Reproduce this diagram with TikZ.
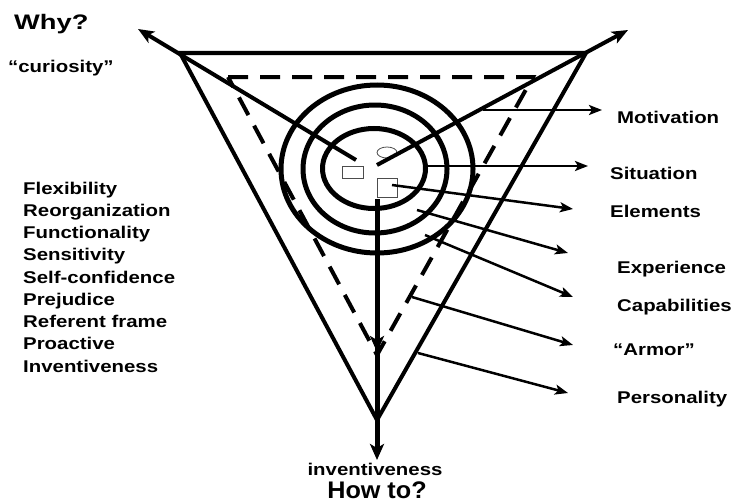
\documentclass[tikz,border=0pt]{standalone}
\usepackage{fontspec}
\newfontfamily\lab{Liberation Sans}[FakeStretch=1.2]
\newfontfamily\labw{Liberation Sans}[FakeStretch=1.3]
\newfontfamily\labh{Liberation Sans}[FakeStretch=1.05]
\usetikzlibrary{arrows.meta}
\begin{document}
\begin{tikzpicture}[x=1pt,y=-1pt,
  tri/.style={line width=4pt, line join=miter},
  dashtri/.style={line width=4pt, dash pattern=on 20pt off 12pt},
  ring/.style={line width=5pt},
  bigarrow/.style={line width=4pt,-{Stealth[length=16pt,width=13pt,inset=4pt]}},
  vert/.style={line width=5pt,-{Stealth[length=16pt,width=14pt,inset=4pt]}},
  thinarrow/.style={line width=2.5pt,-{Stealth[length=13pt,width=10pt,inset=3pt]}},
  smallshape/.style={line width=0.8pt, draw=black!70},
  lbl/.style={anchor=base west, inner sep=0pt, font=\lab\bfseries\fontsize{17}{20}\selectfont},
]
\useasboundingbox (0,0) rectangle (743,503);

% triangles
\draw[tri] (180,53) -- (586,53) -- (377,420) -- cycle;
\draw[dashtri] (228,77) -- (533,77) -- (377,355) -- cycle;

% rings
\draw[ring] (377,169) ellipse [x radius=96, y radius=84];
\draw[ring] (375,169) ellipse [x radius=72, y radius=64];
\draw[ring] (374,168.5) ellipse [x radius=51.5, y radius=40];

% small shapes
\draw[smallshape] (342,166) rectangle (363,178);
\draw[smallshape] (377,178) rectangle (397,197);
\draw[smallshape] (387,152.5) ellipse [x radius=10, y radius=5.5];

% coordinates
\coordinate (lt) at (356,160);
\coordinate (ltip) at (138,29);
\coordinate (rt) at (377,165);
\coordinate (rtip) at (628,30);
\coordinate (vt) at (377,199);
\coordinate (vmid) at (377,352);
\coordinate (vtip) at (377,460);

\draw[bigarrow] (lt) -- (ltip);
\draw[bigarrow] (rt) -- (rtip);
\draw[vert] (vt) -- (vtip);
\draw[vert] (vt) -- (vmid);

% labels right
\node[lbl] (mot) at (617,123) {Motivation};
\node[lbl] (sit) at (610,179) {Situation};
\node[lbl] (ele) at (610,217) {Elements};
\node[lbl] (exp) at (617,273) {Experience};
\node[lbl] (cap) at (617,311) {Capabilities};
\node[lbl] (arm) at (613,355) {“Armor”};
\node[lbl] (per) at (617,403) {Personality};

\coordinate (smot) at (483,110);
\coordinate (ssit) at (425,166);
\coordinate (sele) at (392,185);
\coordinate (sexp) at (417,210);
\coordinate (scap) at (425,235);
\coordinate (sarm) at (412,297);
\coordinate (sper) at (418,353);
\coordinate (tmot) at (602,110);
\coordinate (tsit) at (588,166);
\coordinate (tele) at (573,209);
\coordinate (texp) at (568,253);
\coordinate (tcap) at (573,297);
\coordinate (tarm) at (573,345);
\coordinate (tper) at (568,393);

\draw[thinarrow] (smot) -- (tmot);
\draw[thinarrow] (ssit) -- (tsit);
\draw[thinarrow] (sele) -- (tele);
\draw[thinarrow] (sexp) -- (texp);
\draw[thinarrow] (scap) -- (tcap);
\draw[thinarrow] (sarm) -- (tarm);
\draw[thinarrow] (sper) -- (tper);

% left texts
\node[anchor=base west, inner sep=0pt, font=\labw\bfseries\fontsize{21}{24}\selectfont] (why) at (14,30) {Why?};
\node[lbl] (cur) at (8,72) {“curiosity”};
\node[lbl] (l1) at (23,194) {Flexibility};
\node[lbl] (l2) at (23,216.25) {Reorganization};
\node[lbl] (l3) at (23,238.5) {Functionality};
\node[lbl] (l4) at (23,260.75) {Sensitivity};
\node[lbl] (l5) at (23,283) {Self-confidence};
\node[lbl] (l6) at (23,305.25) {Prejudice};
\node[lbl] (l7) at (23,327.5) {Referent frame};
\node[lbl] (l8) at (23,349.75) {Proactive};
\node[lbl] (l9) at (23,372) {Inventiveness};

% bottom texts
\node[anchor=base, inner sep=0pt, font=\lab\bfseries\fontsize{17}{20}\selectfont] (inv) at (375,475) {inventiveness};
\node[anchor=base, inner sep=0pt, font=\labh\bfseries\fontsize{24}{28}\selectfont] (how) at (377,498) {How to?};
\end{tikzpicture}
\end{document}
